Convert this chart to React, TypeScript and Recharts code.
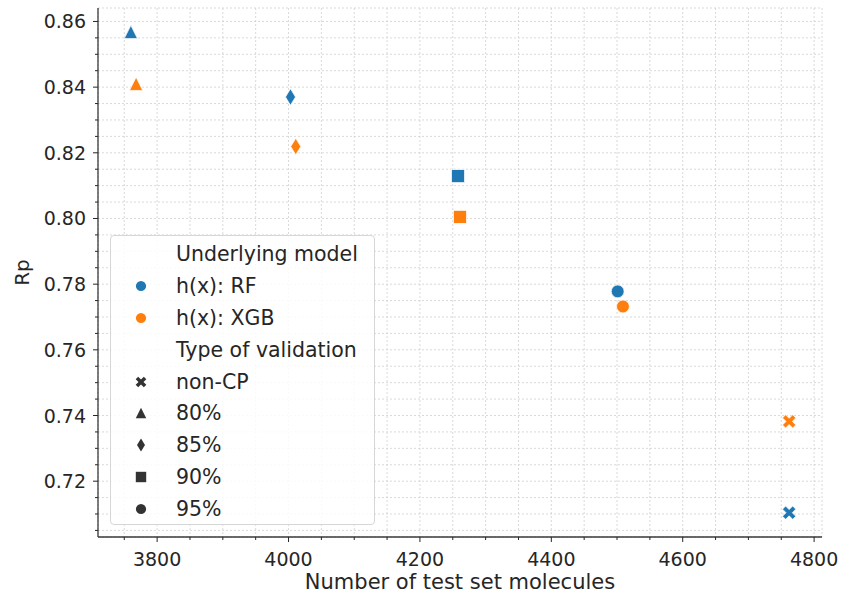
import React from 'react';
import {
  ScatterChart,
  Scatter,
  XAxis,
  YAxis,
  CartesianGrid,
  Legend,
} from 'recharts';

// validation setting of each point, in the same order as the value arrays
const VALIDATION = ['non-CP', '80%', '85%', '90%', '95%'];

const RF_MOLECULES = [4762, 3760, 4003, 4258, 4501];
const RF_RP = [0.7104, 0.8568, 0.837, 0.8129, 0.7778];

const XGB_MOLECULES = [4762, 3768, 4011, 4261, 4509];
const XGB_RP = [0.7382, 0.841, 0.8219, 0.8005, 0.7732];

const X_MAJOR = [3800, 4000, 4200, 4400, 4600, 4800];
const Y_MAJOR = [0.72, 0.74, 0.76, 0.78, 0.8, 0.82, 0.84, 0.86];

// minor ticks (and grid lines) every 50 molecules / 0.005 Rp
const X_TICKS = Array.from({ length: 22 }, (_, i) => 3750 + i * 50);
const Y_TICKS = Array.from({ length: 32 }, (_, i) => Number((0.705 + i * 0.005).toFixed(3)));

const BLUE = '#1f77b4';
const ORANGE = '#ff7f0e';
const INK = '#262626';
const SPINE = '#3a3a3a';
const FONT = '"DejaVu Sans", sans-serif';

const MARKER_FOR: Record<string, string> = {
  'non-CP': 'x',
  '80%': 'triangle',
  '85%': 'diamond',
  '90%': 'square',
  '95%': 'circle',
};

const rfData = VALIDATION.map((v, i) => ({ validation: v, molecules: RF_MOLECULES[i], rp: RF_RP[i] }));
const xgbData = VALIDATION.map((v, i) => ({ validation: v, molecules: XGB_MOLECULES[i], rp: XGB_RP[i] }));

function drawMarker(kind: string, cx: number, cy: number, fill: string, k = 1, edge = '#fff') {
  const common = { fill, stroke: edge, strokeWidth: edge === 'none' ? 0 : 0.7 };
  switch (kind) {
    case 'circle':
      return <circle cx={cx} cy={cy} r={6.4 * k} {...common} />;
    case 'square': {
      const h = 6.5 * k;
      return <rect x={cx - h} y={cy - h} width={2 * h} height={2 * h} {...common} />;
    }
    case 'triangle': {
      const h = 6.6 * k;
      return <polygon points={`${cx},${cy - h} ${cx - h},${cy + h} ${cx + h},${cy + h}`} {...common} />;
    }
    case 'diamond': {
      const h = 8.2 * k;
      const w = 5 * k;
      return <polygon points={`${cx},${cy - h} ${cx + w},${cy} ${cx},${cy + h} ${cx - w},${cy}`} {...common} />;
    }
    default: {
      // filled "X": a plus turned by 45 degrees
      const r = 7.2 * k;
      const t = 2.2 * k;
      const pts = [
        [t, r], [t, t], [r, t], [r, -t], [t, -t], [t, -r],
        [-t, -r], [-t, -t], [-r, -t], [-r, t], [-t, t], [-t, r],
      ]
        .map(([x, y]) => {
          const c = Math.SQRT1_2;
          return `${cx + (x - y) * c},${cy + (x + y) * c}`;
        })
        .join(' ');
      return <polygon points={pts} {...common} />;
    }
  }
}

const XTick = ({ x, y, payload }: any) => {
  const major = X_MAJOR.includes(payload.value);
  return (
    <g>
      <line x1={x} y1={y} x2={x} y2={y + (major ? 5 : 3)} stroke={INK} strokeWidth={1} />
      {major && (
        <text x={x} y={y + 22} textAnchor="middle" dominantBaseline="central" fill={INK} fontSize={19} fontFamily={FONT}>
          {payload.value}
        </text>
      )}
    </g>
  );
};

const YTick = ({ x, y, payload }: any) => {
  const major = Y_MAJOR.some((m) => Math.abs(m - payload.value) < 1e-6);
  return (
    <g>
      <line x1={x - (major ? 5 : 3)} y1={y} x2={x} y2={y} stroke={INK} strokeWidth={1} />
      {major && (
        <text x={x - 12} y={y} textAnchor="end" dominantBaseline="central" fill={INK} fontSize={19} fontFamily={FONT}>
          {payload.value.toFixed(2)}
        </text>
      )}
    </g>
  );
};

const LEGEND_ROWS = [
  { label: 'Underlying model' },
  { label: 'h(x): RF', kind: 'circle', color: BLUE },
  { label: 'h(x): XGB', kind: 'circle', color: ORANGE },
  { label: 'Type of validation' },
  ...VALIDATION.map((v) => ({ label: v, kind: MARKER_FOR[v], color: '#333333' })),
];

const LegendBox = () => (
  <div
    style={{
      boxSizing: 'border-box',
      width: 265,
      height: 290,
      paddingTop: 2,
      border: '1px solid #d6d6d6',
      borderRadius: 4,
      background: 'rgba(255,255,255,0.85)',
      fontFamily: FONT,
      fontSize: 20.5,
      color: INK,
    }}
  >
    {LEGEND_ROWS.map((row) => (
      <div key={row.label} style={{ display: 'flex', alignItems: 'center', height: 31.9 }}>
        <svg width={59} height={31.9} style={{ marginLeft: 6, flex: 'none' }}>
          {row.kind && drawMarker(row.kind, 24, 16, row.color as string, 0.8, 'none')}
        </svg>
        <span style={{ whiteSpace: 'nowrap' }}>{row.label}</span>
      </div>
    ))}
  </div>
);

export default function App() {
  return (
    <div style={{ width: 841, height: 594, background: '#fff' }}>
      <style>{'body{margin:0}'}</style>
      <ScatterChart width={841} height={594} margin={{ top: 8, right: 19, left: 0, bottom: 0 }}>
        <CartesianGrid stroke="#cfcfcf" strokeDasharray="2 2" strokeWidth={0.8} />
        <XAxis
          dataKey="molecules"
          type="number"
          domain={[3710, 4812]}
          ticks={X_TICKS}
          interval={0}
          height={57}
          tickSize={0}
          tickMargin={0}
          tickLine={false}
          tick={<XTick />}
          axisLine={{ stroke: SPINE, strokeWidth: 1.3 }}
          label={{
            value: 'Number of test set molecules',
            position: 'center',
            dy: 16,
            fill: INK,
            fontSize: 21,
            fontFamily: FONT,
          }}
        />
        <YAxis
          dataKey="rp"
          type="number"
          domain={[0.703, 0.8641]}
          ticks={Y_TICKS}
          interval={0}
          width={98}
          tickSize={0}
          tickMargin={0}
          tickLine={false}
          tick={<YTick />}
          axisLine={{ stroke: SPINE, strokeWidth: 1.3 }}
          label={{
            value: 'Rp',
            angle: -90,
            position: 'center',
            dx: -27,
            fill: INK,
            fontSize: 20,
            fontFamily: FONT,
          }}
        />
        {/* top and right spines */}
        <XAxis
          xAxisId="top"
          orientation="top"
          type="number"
          domain={[3710, 4812]}
          height={0}
          tick={false}
          tickLine={false}
          axisLine={{ stroke: SPINE, strokeWidth: 1.3 }}
        />
        <YAxis
          yAxisId="right"
          orientation="right"
          type="number"
          domain={[0.703, 0.8641]}
          width={0}
          tick={false}
          tickLine={false}
          axisLine={{ stroke: SPINE, strokeWidth: 1.3 }}
        />
        <Scatter
          name="h(x): RF"
          data={rfData}
          isAnimationActive={false}
          shape={(p: any) => drawMarker(MARKER_FOR[p.payload.validation], p.cx, p.cy, BLUE)}
        />
        <Scatter
          name="h(x): XGB"
          data={xgbData}
          isAnimationActive={false}
          shape={(p: any) => drawMarker(MARKER_FOR[p.payload.validation], p.cx, p.cy, ORANGE)}
        />
        <Legend
          layout="horizontal"
          verticalAlign="middle"
          align="center"
          content={<LegendBox />}
          wrapperStyle={{ left: 110, top: 235, width: 265, height: 290 }}
        />
      </ScatterChart>
    </div>
  );
}
